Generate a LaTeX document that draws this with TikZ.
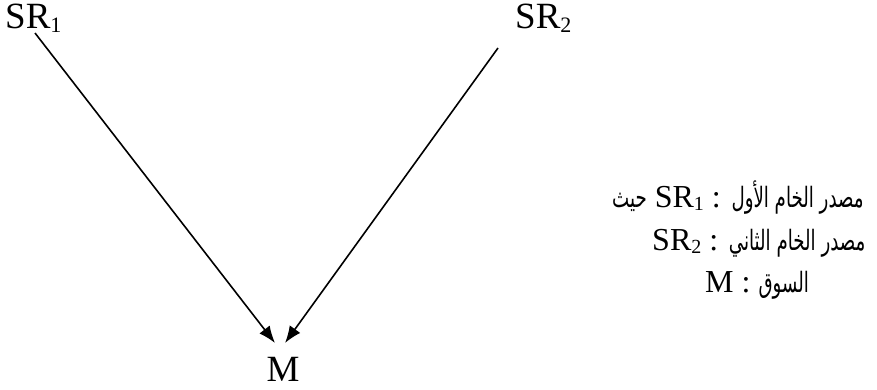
\documentclass[tikz,border=0pt]{standalone}
\usepackage{fontspec}
\setmainfont{Liberation Serif}
\newfontfamily\arabicfont[Script=Arabic,FakeStretch=0.65]{DejaVu Sans}
\TeXXeTstate=1
\usetikzlibrary{arrows.meta}
\newcommand\mysub[1]{\raisebox{-4pt}{\fontsize{22}{22}\selectfont #1}}
\newcommand\mysubs[1]{\raisebox{-3.5pt}{\fontsize{20}{20}\selectfont #1}}
\newcommand\AR[1]{\hbox{\arabicfont\fontsize{28}{30}\selectfont\beginR #1\endR}}
\begin{document}
\begin{tikzpicture}[x=1pt,y=-1pt,
  lbl/.style={inner sep=0pt, font=\fontsize{37}{40}\selectfont},
  txt/.style={inner sep=0pt, font=\fontsize{32}{40}\selectfont},
  arr/.style={-{Latex[length=17pt,width=13pt]}, line width=1.6pt}]
\useasboundingbox (0,0) rectangle (877,389);
\node[lbl, anchor=base west] (sr1) at (5,28) {SR\mysub{1}};
\node[lbl, anchor=base west] (sr2) at (515,28) {SR\mysub{2}};
\node[lbl, anchor=base] (m) at (283,381) {M};
\coordinate (s1) at (35,33);
\coordinate (s2) at (498,48);
\coordinate (t1) at (275,343);
\coordinate (t2) at (285,343);
\draw[arr] (s1) -- (t1);
\draw[arr] (s2) -- (t2);
\node[txt, anchor=base west] (l1) at (612,207) {\AR{حيث} SR\mysubs{1} : \AR{مصدر الخام الأول}};
\node[txt, anchor=base west] (l2) at (652,250) {SR\mysubs{2} : \AR{مصدر الخام الثاني}};
\node[txt, anchor=base west] (l3) at (705,292) {M : \AR{السوق}};
\end{tikzpicture}
\end{document}
